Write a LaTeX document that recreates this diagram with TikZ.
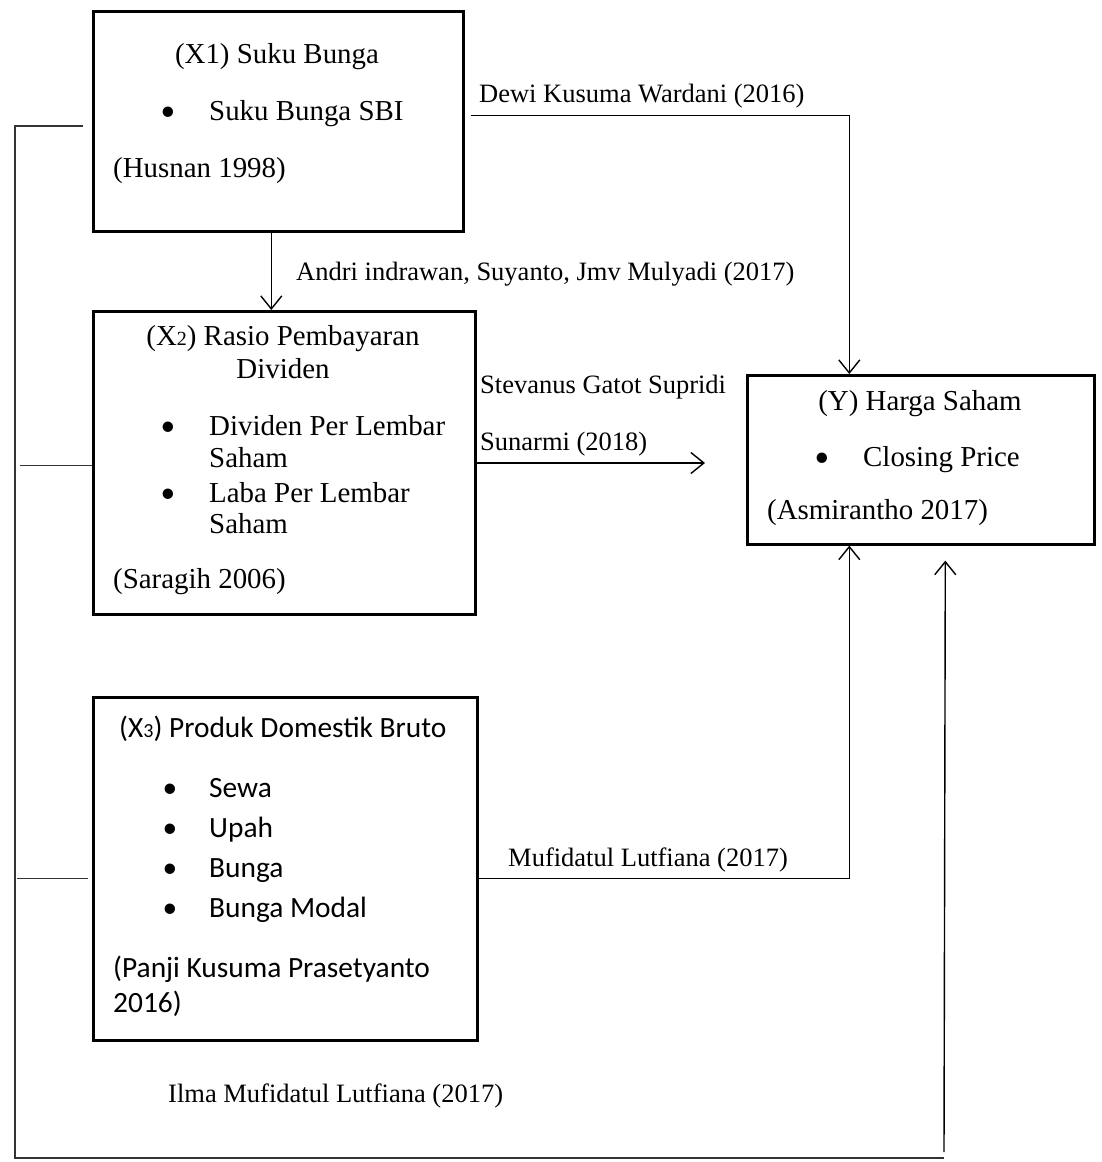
\documentclass[tikz,border=0pt]{standalone}
\usepackage{fontspec}
\setmainfont{Liberation Serif}
\newfontfamily\calibri{Carlito}
\usetikzlibrary{arrows.meta}
\newcommand{\smalldigit}[1]{{\fontsize{20}{20}\selectfont #1}}

\begin{document}
\begin{tikzpicture}[x=1pt,y=-1pt,>={Straight Barb[length=13pt,width=21pt]},
  box/.style={draw,line width=2.6pt,inner sep=0pt,anchor=north west},
  txt/.style={inner sep=0pt,anchor=base west,font=\fontsize{28.9}{33}\selectfont},
  pdb/.style={inner sep=0pt,anchor=base west,font=\calibri\fontsize{29.4}{40}\selectfont},
  dot/.style={inner sep=0pt,anchor=base,font=\calibri\fontsize{29.4}{40}\selectfont},
  lbl/.style={inner sep=0pt,anchor=base west,font=\fontsize{26.5}{32}\selectfont},
  link/.style={line width=1.4pt},
  bus/.style={line width=1.4pt,draw=black!80}]
\useasboundingbox (0,0) rectangle (1101,1162);
% variable boxes
\node[box,minimum width=370pt,minimum height=220pt] (x1) at (92,10) {};
\node[box,minimum width=382pt,minimum height=303pt] (x2) at (92,310) {};
\node[box,minimum width=384pt,minimum height=343pt] (x3) at (92,696) {};
\node[box,minimum width=347pt,minimum height=169pt] (yy) at (746,374) {};
% X1
\node[txt,anchor=base] (x1title) at (277,63) {(X1) Suku Bunga};
\node[dot] (x1dot) at (168,120) {\textbullet};
\node[txt] (x1item) at (209,120) {Suku Bunga SBI};
\node[txt] (x1ref) at (113,177) {(Husnan 1998)};
% X2
\node[txt,anchor=base] (x2title) at (283,345) {(X\smalldigit{2}) Rasio Pembayaran};
\node[txt,anchor=base] (x2title2) at (283,378) {Dividen};
\node[dot] (x2dota) at (168,435) {\textbullet};
\node[txt] (x2itema) at (209,435) {Dividen Per Lembar};
\node[txt] (x2itema2) at (209,467) {Saham};
\node[dot] (x2dotb) at (168,502) {\textbullet};
\node[txt] (x2itemb) at (209,502) {Laba Per Lembar};
\node[txt] (x2itemb2) at (209,533) {Saham};
\node[txt] (x2ref) at (113,588) {(Saragih 2006)};
% X3
\node[pdb] (x3title) at (119,737) {(X\smalldigit{3}) Produk Domestik Bruto};
\foreach \yy/\item [count=\i] in {797/Sewa,837/Upah,877/Bunga,917/Bunga Modal}{
  \node[dot] (x3dot\i) at (170,\yy) {\textbullet};
  \node[pdb] (x3item\i) at (209,\yy) {\item};
}
\node[pdb] (x3ref) at (113,977) {(Panji Kusuma Prasetyanto};
\node[pdb] (x3ref2) at (113,1012) {2016)};
% Y
\node[txt,anchor=base] (ytitle) at (920,410) {(Y) Harga Saham};
\node[dot] (ydot) at (822,466) {\textbullet};
\node[txt] (yitem) at (863,466) {Closing Price};
\node[txt] (yref) at (767,519) {(Asmirantho 2017)};
% path labels
\node[lbl] (ldewi) at (479,102) {Dewi Kusuma Wardani (2016)};
\node[lbl] (landri) at (296,280) {Andri indrawan, Suyanto, Jmv Mulyadi (2017)};
\node[lbl] (lstev) at (480,393) {Stevanus Gatot Supridi};
\node[lbl] (lstev2) at (480,450) {Sunarmi (2018)};
\node[lbl] (lmufi) at (508,866) {Mufidatul Lutfiana (2017)};
\node[lbl] (lilma) at (168,1102) {Ilma Mufidatul Lutfiana (2017)};
% connectors
\coordinate (x2end) at (705,463);
\coordinate (busT) at (15,126);
\coordinate (busB) at (15,1158);
\coordinate (busR) at (944,1158);
\draw[link,->] ([shift={(6,-6)}]x1.east) -| ([xshift=-71.5]yy.north);
\draw[link,->] ([xshift=-7]x1.south) -- ([xshift=-7]x1.south |- x2.north);
\draw[link,->] (x2.east |- x2end) -- (x2end);
\draw[link,->] ([yshift=-9.5]x3.east) -| ([xshift=-71.5]yy.south);
\draw[bus] ([xshift=-9]x1.west |- busT) -- (busT) -- (busB) -- (busR);
\draw[bus] ([yshift=-2.5]x2.west) -- ++(-72,0);
\draw[bus] ([shift={(-4,9.5)}]x3.west) -- ++(-71,0);
\draw[link,->] ([yshift=6]busR) -- ([shift={(24.5,15)}]yy.south);
\end{tikzpicture}
\end{document}
